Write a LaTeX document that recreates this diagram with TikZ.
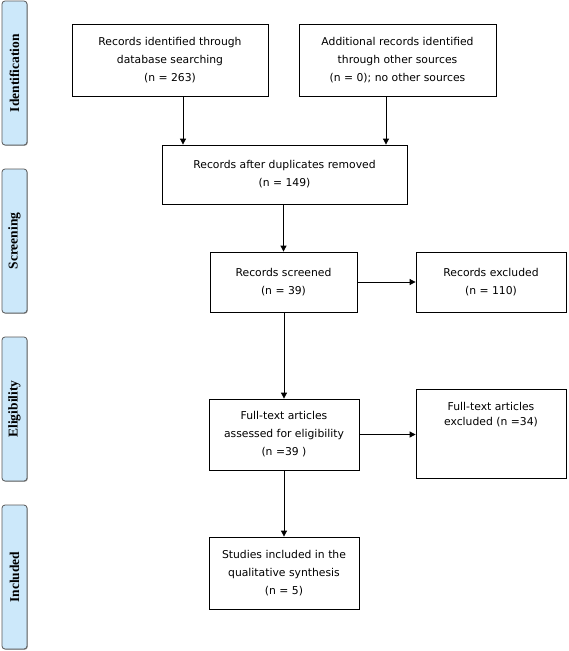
\documentclass[tikz,border=0pt]{standalone}
\usepackage{fontspec}
\setmainfont{DejaVu Sans}
\newfontfamily\phasefont{Liberation Serif}
\usetikzlibrary{arrows.meta,shadows}
\definecolor{phaseblue}{HTML}{CCE8FA}

\begin{document}
\begin{tikzpicture}[
	x=1pt, y=-1pt,
	every node/.style = {font=\fontsize{10.8}{18}\selectfont},
	box/.style = {draw, line width=0.8pt, align=center, inner sep=0pt},
	phase/.style = {draw=black!65, line width=0.8pt, fill=phaseblue, rounded corners=3pt,
			rotate=90, minimum width=144, minimum height=25, inner sep=0pt,
			font=\phasefont\bfseries\fontsize{13.5}{13.5}\selectfont,
			drop shadow={shadow xshift=0.8pt, shadow yshift=-0.8pt, fill=black!35, opacity=1}},
	flow/.style = {-{Triangle[length=6pt,width=6pt]}, line width=0.8pt},
]
	\useasboundingbox (0,0) rectangle (568,651);

	\foreach \y/\phasename in {73/Identification, 241/Screening, 409/Eligibility, 577/Included}{%
		\node [phase] (\phasename) at (14.5,\y) {\phasename};
	}

	\node [box, minimum width=196, minimum height=72] (dbsearch) at (170,60)
		{Records identified through\\database searching\\(n = 263)};
	\node [box, minimum width=197, minimum height=72] (othersrc) at (397.5,60)
		{Additional records identified\\through other sources\\(n = 0); no other sources};
	\node [box, minimum width=245, minimum height=59] (dedup) at (284.5,174.5)
		{Records after duplicates removed\\(n = 149)};
	\node [box, minimum width=147, minimum height=60] (screened) at (283.5,282)
		{Records screened\\(n = 39)};
	\node [box, minimum width=150, minimum height=60] (excluded) at (491,282)
		{Records excluded\\(n = 110)};
	\node [box, minimum width=150, minimum height=71] (fulltext) at (284,434.5)
		{Full-text articles\\assessed for eligibility\\(n =39 )};
	\node [box, minimum width=150, minimum height=89,
		label={[anchor=north, inner sep=0pt, yshift=-13pt, align=center,
			font=\fontsize{10.8}{15}\selectfont]north:{Full-text articles\\excluded (n =34)}}]
		(ftexcluded) at (491,433.5) {};
	\node [box, minimum width=150, minimum height=72] (included) at (284,573)
		{Studies included in the\\qualitative synthesis\\(n = 5)};

	\draw [flow] ([xshift=13pt]dbsearch.south) -- ([xshift=13pt]dbsearch.south |- dedup.north);
	\draw [flow] ([xshift=-11.5pt]othersrc.south) -- ([xshift=-11.5pt]othersrc.south |- dedup.north);
	\draw [flow] (screened.north |- dedup.south) -- (screened.north);
	\draw [flow] (screened.east) -- (excluded.west);
	\draw [flow] (fulltext.north |- screened.south) -- (fulltext.north);
	\draw [flow] (fulltext.east) -- (fulltext.east -| ftexcluded.west);
	\draw [flow] (fulltext.south) -- (included.north);
\end{tikzpicture}
\end{document}
